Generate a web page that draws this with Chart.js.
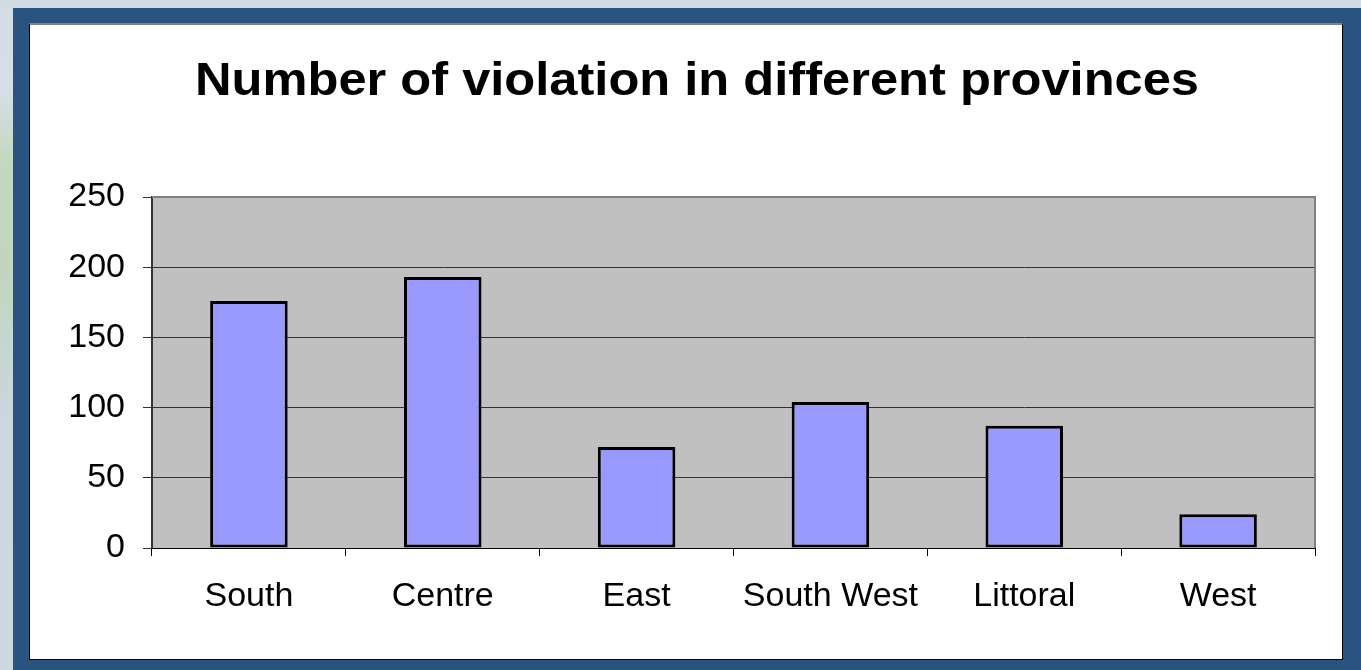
<!DOCTYPE html>
<html>
<head>
<meta charset="utf-8">
<title>Number of violation in different provinces</title>
<script src="https://cdn.jsdelivr.net/npm/chart.js@4"></script>
<style>
    html, body {
        margin: 0;
        padding: 0;
        width: 1361px;
        height: 670px;
        overflow: hidden;
        font-family: "Liberation Sans", Arial, sans-serif;
    }
    body {
        position: relative;
        background: linear-gradient(to bottom, #d3dce5 0px, #d6dee6 90px, #c4d8c0 160px, #c0d6bd 260px, #cbd6df 420px, #ccd7e0 670px);
    }
    .frame {
        position: absolute;
        left: 13px;
        top: 8px;
        width: 1348px;
        height: 662px;
        background: #2a5480;
    }
    .panel {
        position: absolute;
        left: 29px;
        top: 23px;
        width: 1312px;
        height: 634px;
        background: #fff;
        border: 1px solid #000;
        border-top: 2px solid #808080;
    }
    .panel canvas {
        display: block;
    }
</style>
</head>
<body>
<div class="frame"></div>
<div class="panel">
    <canvas id="chart" width="1312" height="634"></canvas>
</div>

<script>
// Chart data
const categories = ["South", "Centre", "East", "South West", "Littoral", "West"];
const violations = [176, 193, 72, 104, 87, 24];
const yMin = 0;
const yMax = 250;
const yStep = 50;
const chartTitle = 'Number of violation in different provinces';

const fontFamily = '"Liberation Sans", Arial, sans-serif';

// grey plot area with a grey frame on top and right
const plotBackground = {
    id: 'plotBackground',
    beforeDraw(chart) {
        const { ctx, chartArea } = chart;
        ctx.save();
        ctx.fillStyle = '#c0c0c0';
        ctx.fillRect(chartArea.left, chartArea.top, chartArea.right - chartArea.left, chartArea.bottom - chartArea.top);
        ctx.restore();
    },
    afterDraw(chart) {
        const { ctx, chartArea } = chart;
        ctx.save();
        ctx.strokeStyle = '#808080';
        ctx.lineWidth = 2;
        ctx.beginPath();
        ctx.moveTo(chartArea.left, chartArea.top);
        ctx.lineTo(chartArea.right, chartArea.top);
        ctx.lineTo(chartArea.right, chartArea.bottom);
        ctx.stroke();
        ctx.restore();
    }
};

// title is drawn by hand so it can sit centred on the panel, slightly wide like the original
const wideTitle = {
    id: 'wideTitle',
    afterDraw(chart) {
        const { ctx, width } = chart;
        ctx.save();
        ctx.font = 'bold 47px ' + fontFamily;
        ctx.fillStyle = '#000';
        ctx.textAlign = 'center';
        ctx.textBaseline = 'alphabetic';
        ctx.translate(width / 2 + 11, 70);
        ctx.scale(1.077, 1);
        ctx.fillText(chartTitle, 0, 0);
        ctx.restore();
    }
};

const tickFont = { family: fontFamily, size: 34 };

new Chart(document.getElementById('chart'), {
    type: 'bar',
    data: {
        labels: categories,
        datasets: [{
            data: violations,
            backgroundColor: '#9999ff',
            borderColor: '#000000',
            borderWidth: 3,
            borderSkipped: false,
            barPercentage: 0.4,
            categoryPercentage: 1.0
        }]
    },
    options: {
        responsive: false,
        animation: false,
        events: [],
        layout: {
            padding: { left: 0, right: 27, top: 172, bottom: 0 }
        },
        plugins: {
            legend: { display: false },
            tooltip: { enabled: false },
            title: { display: false }
        },
        scales: {
            x: {
                afterFit(scale) { scale.height = 111; },
                grid: {
                    offset: true,
                    drawOnChartArea: false,
                    drawTicks: true,
                    tickLength: 8,
                    color: '#000'
                },
                border: { color: '#000', width: 1 },
                ticks: {
                    color: '#000',
                    font: tickFont,
                    padding: 20,
                    maxRotation: 0,
                    autoSkip: false
                }
            },
            y: {
                min: yMin,
                max: yMax,
                afterFit(scale) { scale.width = 122; },
                grid: {
                    color: '#333',
                    lineWidth: 1,
                    tickLength: 9
                },
                border: { color: '#333', width: 2 },
                ticks: {
                    stepSize: yStep,
                    color: '#000',
                    font: tickFont,
                    padding: 18
                }
            }
        }
    },
    plugins: [plotBackground, wideTitle]
});
</script>
</body>
</html>
